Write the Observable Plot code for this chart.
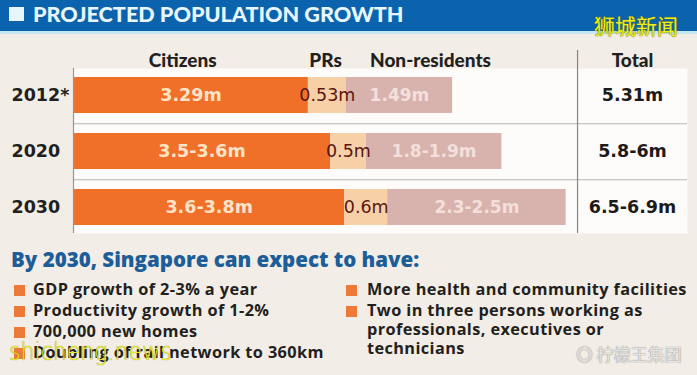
<!DOCTYPE html>
<html><head><meta charset="utf-8">
<script src="https://cdn.jsdelivr.net/npm/d3@7"></script>
<script src="https://cdn.jsdelivr.net/npm/@observablehq/plot@0.6"></script>
<style>
html,body{margin:0;padding:0;}
body{width:697px;height:375px;overflow:hidden;background:#f2ede6;font-family:Lato,"Open Sans",sans-serif;}
#wrap{position:relative;width:697px;height:375px;overflow:hidden;}
#titlebar{position:absolute;left:0;top:0;width:697px;height:31px;background:#0b63ad;border-bottom:3px solid #c6e8f3;}
#titlesq{position:absolute;left:9px;top:7px;width:15px;height:14px;background:#e6f6fb;}
#title{position:absolute;left:33px;top:0px;line-height:29px;font-size:21.6px;font-weight:900;color:#e6f6fb;white-space:nowrap;}
#chart{position:absolute;left:0;top:34px;}
#sub{position:absolute;left:11px;top:246px;font-family:"Open Sans";font-size:20.5px;font-weight:800;color:#1d5e98;white-space:nowrap;line-height:27px;}
.bl{position:absolute;font-family:"Open Sans";font-size:16.3px;font-weight:700;color:#231f20;white-space:nowrap;line-height:19px;letter-spacing:0.4px;}
.sq{position:absolute;width:11px;height:11px;background:#ee7a3a;}
.wm1{position:absolute;left:594px;top:10px;font-family:"Noto Sans CJK SC";font-size:21px;color:#eeee22;text-shadow:0 0 1px #707000,0 0 1px #707000;white-space:nowrap;}
.wm2{position:absolute;left:9px;top:338px;font-family:"DejaVu Sans";font-weight:200;font-size:24px;color:rgba(236,238,40,0.95);text-shadow:0 0 1px #8a8a00;white-space:nowrap;transform:scaleX(0.92);transform-origin:left top;}
.wm3{position:absolute;left:576px;top:341px;font-family:"Noto Sans CJK SC";font-size:17px;color:rgba(255,255,255,0.75);text-shadow:0 0 1px #9a9590,0 0 1px #9a9590;white-space:nowrap;}
</style></head>
<body><div id="wrap">
<div id="titlebar"></div><div id="titlesq"></div><div id="title"></div>
<div id="chart"></div>
<div id="sub"></div>
<div id="bullets"></div>
<div class="wm1">狮城新闻</div>
<div class="wm2">shicheng.news</div>
<div class="wm3">◎&nbsp;柠檬王集团</div>
</div>
<script>
const titleText = "PROJECTED POPULATION GROWTH";
const subtitleText = "By 2030, Singapore can expect to have:";
const years = ["2012*", "2020", "2030"];
const groups = ["Citizens", "PRs", "Non-residents"];
const citizens = [3.29, 3.6, 3.8];
const prs = [0.53, 0.5, 0.6];
const nonResidents = [1.49, 1.9, 2.5];
const citizenLabels = ["3.29m", "3.5-3.6m", "3.6-3.8m"];
const prLabels = ["0.53m", "0.5m", "0.6m"];
const nonResLabels = ["1.49m", "1.8-1.9m", "2.3-2.5m"];
const totalLabels = ["5.31m", "5.8-6m", "6.5-6.9m"];
const headers = ["Citizens", "PRs", "Non-residents", "Total"];
const leftBullets = [["GDP growth of 2-3% a year"], ["Productivity growth of 1-2%"], ["700,000 new homes"], ["Doubling of rail network to 360km"]];
const rightBullets = [["More health and community facilities"], ["Two in three persons working as", "professionals, executives or", "technicians"]];

document.getElementById("title").textContent = titleText;
document.getElementById("sub").textContent = subtitleText;

// bullets
const bdiv = document.getElementById("bullets");
function addBullets(list, sqX, txtX, tops, lh) {
  list.forEach((lines, i) => {
    const sq = document.createElement("div");
    sq.className = "sq"; sq.style.left = sqX + "px"; sq.style.top = (tops[i] - 5) + "px";
    bdiv.appendChild(sq);
    lines.forEach((line, k) => {
      const t = document.createElement("div");
      t.className = "bl"; t.style.left = txtX + "px";
      t.style.top = (tops[i] + k * lh - lh / 2 - 1) + "px";
      t.style.lineHeight = lh + "px";
      t.textContent = line;
      bdiv.appendChild(t);
    });
  });
}
addBullets(leftBullets, 14, 33, [290, 311, 332, 353], 21);
addBullets(rightBullets, 346, 367, [290, 311], 19);

// table
const series = [citizens, prs, nonResidents];
const labelsBy = [citizenLabels, prLabels, nonResLabels];
const rows = [];
years.forEach((y, i) => {
  let acc = 0;
  groups.forEach((g, j) => {
    const v = series[j][i];
    rows.push({year: y, group: g, value: v, mid: acc + v / 2, label: labelsBy[j][i]});
    acc += v;
  });
});
const totals = years.map((y, i) => ({year: y, label: totalLabels[i]}));

const headerX = [1.53, 3.53, 5.0, 7.83];
const totalX = 7.83;
const dividerX = 7.06;
const num = "DejaVu Sans, sans-serif";

const chart = Plot.plot({
  width: 697, height: 204,
  marginLeft: 73, marginRight: 10, marginTop: 34, marginBottom: 5,
  x: {domain: [0, 8.6], axis: null},
  y: {domain: years, axis: null, paddingInner: 0.363, paddingOuter: 0.142},
  color: {domain: groups, range: ["#f0702a", "#f7d0a8", "#d8b2ac"]},
  style: {background: "transparent", fontFamily: "Lato, sans-serif", overflow: "visible"},
  marks: [
    Plot.frame({fill: "#fdfcfa", stroke: null}),
    Plot.ruleY(years.slice(0, 2), {dy: 28.25, stroke: "#b9b4ae", strokeWidth: 1.2}),
    Plot.barX(rows, Plot.stackX({y: "year", x: "value", fill: "group", order: groups})),
    Plot.ruleX([0], {stroke: "#9a9590", strokeWidth: 1.2}),
    Plot.ruleX([dividerX], {stroke: "#8a8580", strokeWidth: 1.2, insetTop: -18}),
    Plot.text(rows.filter(d => d.group === "Citizens"), {x: "mid", y: "year", text: "label", fill: "#fde4c8", fontSize: 17.5, fontWeight: 700, fontFamily: num}),
    Plot.text(rows.filter(d => d.group === "PRs"), {x: "mid", y: "year", text: "label", fill: "#5a1610", fontSize: 17.5, fontWeight: 400, fontFamily: num}),
    Plot.text(rows.filter(d => d.group === "Non-residents"), {x: "mid", y: "year", text: "label", fill: "#f3e0dc", fontSize: 17, fontWeight: 700, fontFamily: num}),
    Plot.text(totals, {x: totalX, y: "year", text: "label", fill: "#1e1a1a", fontSize: 17.5, fontWeight: 700, fontFamily: num}),
    Plot.text(years, {y: d => d, text: d => d, frameAnchor: "left", textAnchor: "start", dx: -62, fill: "#231f20", fontSize: 17.5, fontWeight: 700, fontFamily: num}),
    Plot.text(headers, {x: (d, i) => headerX[i], text: d => d, frameAnchor: "top", dy: -15, fill: "#231f20", fontSize: 19, fontWeight: 900})
  ]
});
document.getElementById("chart").appendChild(chart);
</script>
</body></html>
